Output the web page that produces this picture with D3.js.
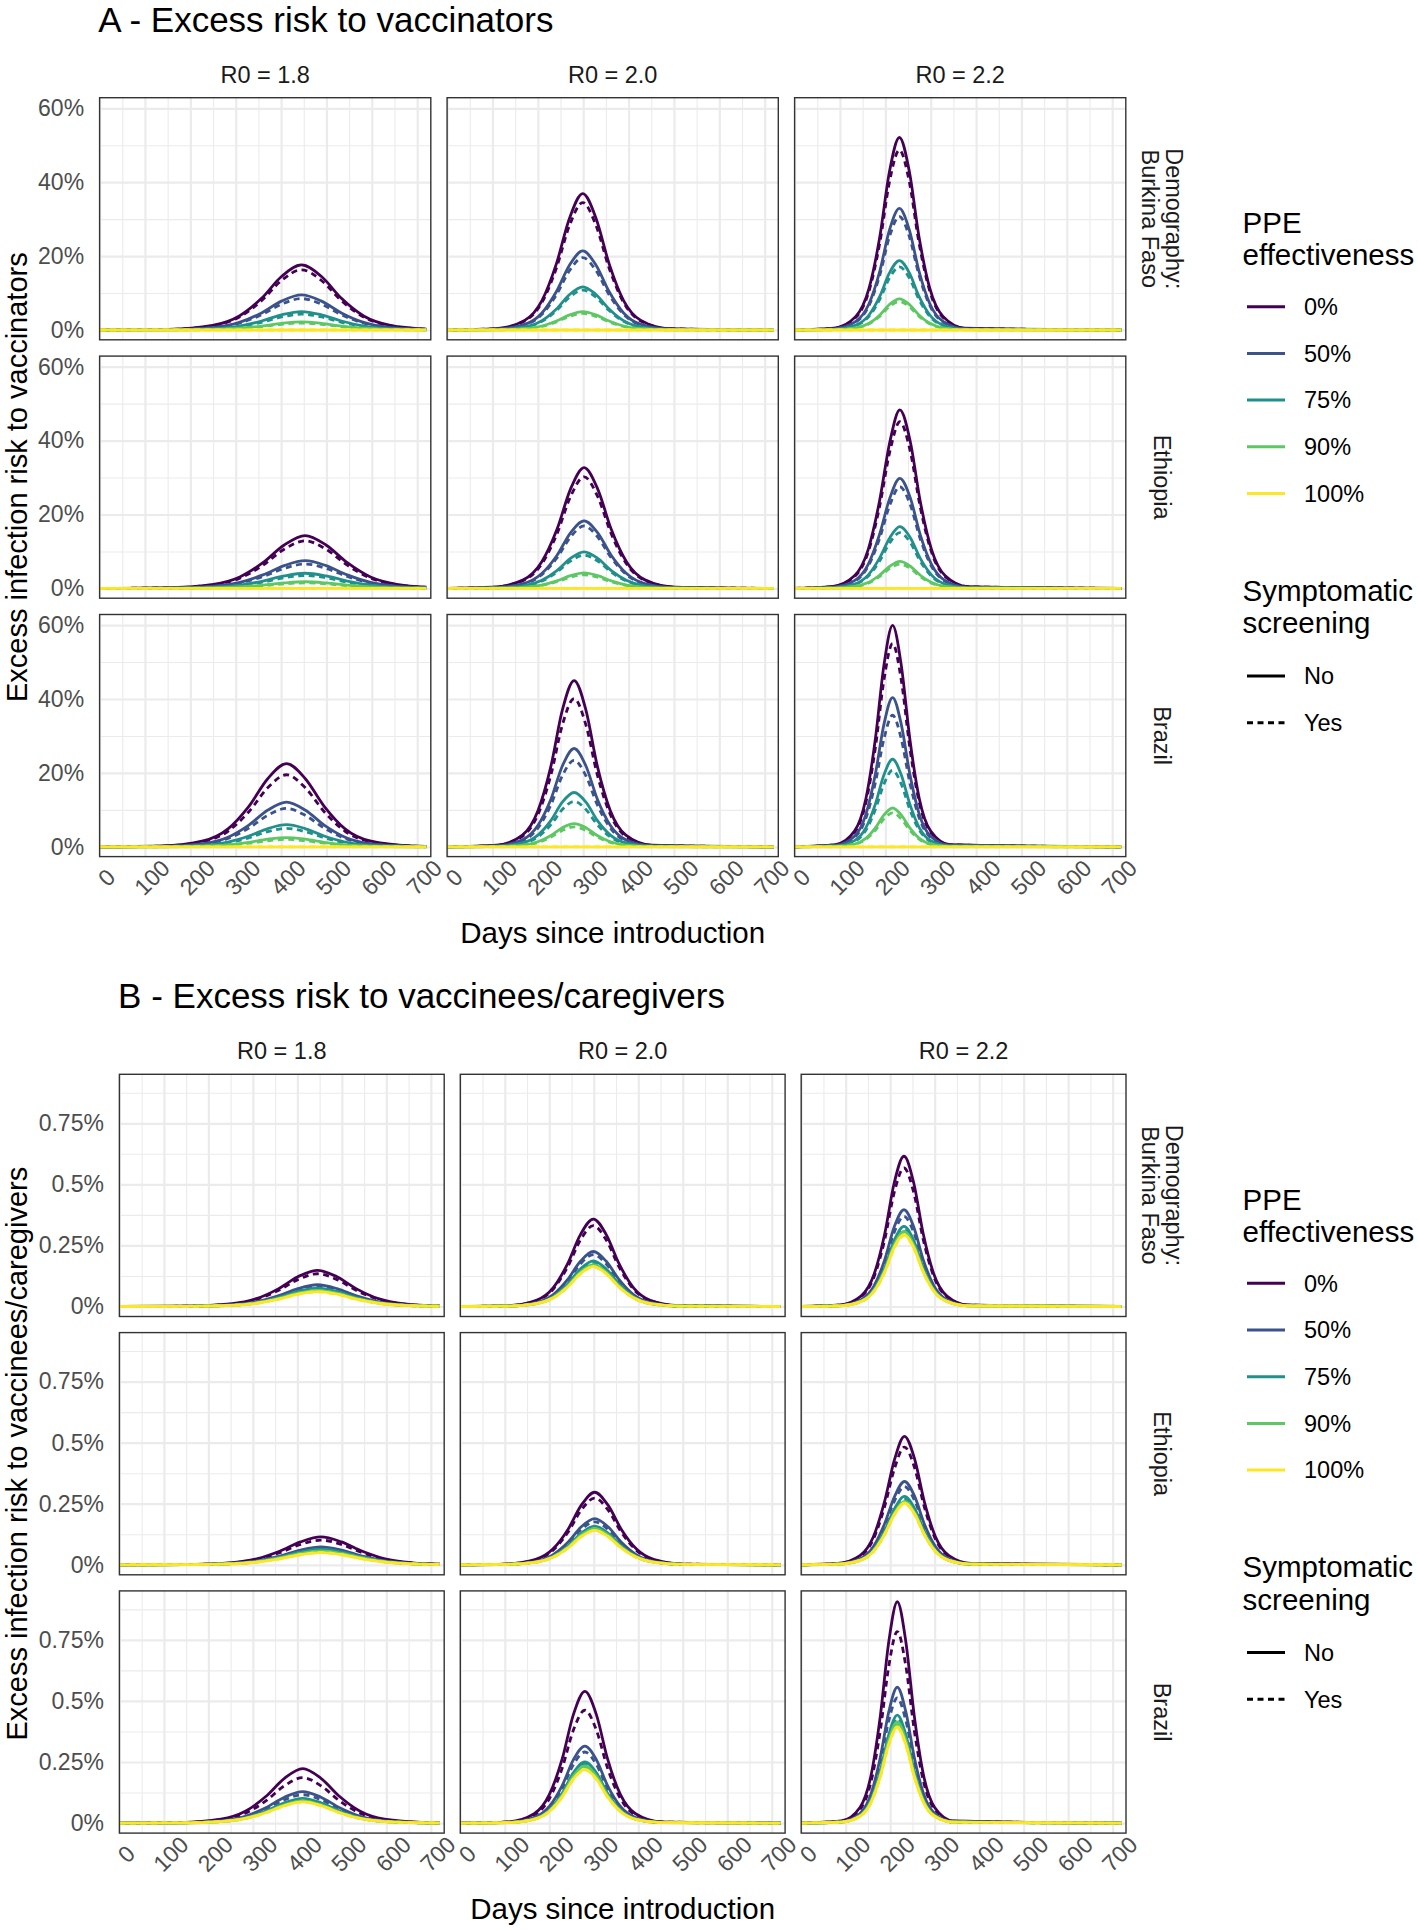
<!DOCTYPE html>
<html><head><meta charset="utf-8">
<script src="https://cdn.jsdelivr.net/npm/d3@7"></script>
<style>
body{margin:0;background:#fff}
svg{display:block}
text{font-family:"Liberation Sans",Arial,Helvetica,sans-serif}
</style>
</head><body>
<svg id="chart" width="1418" height="1930"></svg>
<script>
// ---------------- categories / labels ----------------
const demographyStrips = [["Demography:", "Burkina Faso"], ["Ethiopia"], ["Brazil"]];
const r0Labels = ["R0 = 1.8", "R0 = 2.0", "R0 = 2.2"];
const ppeLevels = ["0%", "50%", "75%", "90%", "100%"];
const screeningLevels = ["No", "Yes"];
const xTickValues = [0, 100, 200, 300, 400, 500, 600, 700];
const xMinorValues = [50, 150, 250, 350, 450, 550, 650];
const yTicksA = [0, 20, 40, 60];
const yTickLabelsA = ["0%", "20%", "40%", "60%"];
const yMinorA = [10, 30, 50];
const yTicksB = [0, 0.25, 0.5, 0.75];
const yTickLabelsB = ["0%", "0.25%", "0.5%", "0.75%"];
const yMinorB = [0.125, 0.375, 0.625, 0.875];

// ---------------- days (x) per epidemic ----------------
const daysBF18 = [0, 151, 249, 308, 357, 401, 445, 489, 533, 582, 641, 720];
const daysBF20 = [0, 107, 171, 209, 241, 270, 299, 328, 357, 389, 427, 491, 720];
const daysBF22 = [0, 87, 135, 164, 188, 209, 231, 253, 274, 298, 327, 375, 720];
const daysET18 = [0, 144, 247, 309, 360, 407, 453, 499, 546, 597, 659, 720];
const daysET20 = [0, 101, 168, 208, 242, 272, 302, 332, 362, 396, 436, 503, 720];
const daysET22 = [0, 82, 132, 162, 187, 210, 232, 255, 277, 302, 332, 382, 720];
const daysBR18 = [0, 136, 228, 283, 329, 371, 412, 453, 495, 541, 596, 688, 720];
const daysBR20 = [0, 109, 166, 200, 229, 254, 280, 306, 331, 360, 394, 451, 720];
const daysBR22 = [0, 90, 132, 157, 178, 197, 216, 235, 254, 275, 300, 342, 720];

// ---------------- A: excess risk to vaccinators (%), order: 0% No, 0% Yes, 50% No, 50% Yes, 75% No, 75% Yes, 90% No, 90% Yes, 100% No, 100% Yes ----------------
const vacBF18 = [
 [0,.17,1.24,3.8,8.57,14.47,17.6,14.47,8.57,3.8,1.24,.25],
 [0,.16,1.15,3.52,7.94,13.4,16.3,13.4,7.94,3.52,1.15,.23],
 [0,.09,.67,2.05,4.63,7.81,9.5,7.81,4.63,2.05,.67,.14],
 [0,.08,.6,1.84,4.14,6.99,8.5,6.99,4.14,1.84,.6,.12],
 [0,.05,.35,1.08,2.44,4.11,5,4.11,2.44,1.08,.35,.07],
 [0,.04,.3,.93,2.09,3.53,4.3,3.53,2.09,.93,.3,.06],
 [0,.02,.16,.48,1.07,1.81,2.2,1.81,1.07,.48,.16,.03],
 [0,.02,.13,.41,.93,1.56,1.9,1.56,.93,.41,.13,.03],
 [0,0,0,0,0,0,0,0,0,0,0,0],
 [0,0,0,0,0,0,0,0,0,0,0,0]];
const vacBF20 = [
 [0,.37,2.61,7.97,17.97,30.33,36.9,30.33,17.97,7.97,2.61,.37,0],
 [0,.34,2.44,7.45,16.8,28.36,34.5,28.36,16.8,7.45,2.44,.34,0],
 [0,.21,1.51,4.62,10.42,17.59,21.4,17.59,10.42,4.62,1.51,.21,0],
 [0,.19,1.39,4.23,9.55,16.11,19.6,16.11,9.55,4.23,1.39,.19,0],
 [0,.12,.83,2.53,5.7,9.62,11.7,9.62,5.7,2.53,.83,.12,0],
 [0,.11,.76,2.33,5.26,8.88,10.8,8.88,5.26,2.33,.76,.11,0],
 [0,.05,.35,1.08,2.44,4.11,5,4.11,2.44,1.08,.35,.05,0],
 [0,.04,.32,.97,2.19,3.7,4.5,3.7,2.19,.97,.32,.04,0],
 [0,0,0,0,0,0,0,0,0,0,0,0,0],
 [0,0,0,0,0,0,0,0,0,0,0,0,0]];
const vacBF22 = [
 [0,.52,3.68,11.25,25.37,42.83,52.1,42.83,25.37,11.25,3.68,.52,0],
 [0,.48,3.44,10.52,23.72,40.03,48.7,40.03,23.72,10.52,3.44,.48,0],
 [0,.33,2.33,7.11,16.02,27.04,32.9,27.04,16.02,7.11,2.33,.33,0],
 [0,.3,2.17,6.63,14.95,25.24,30.7,25.24,14.95,6.63,2.17,.3,0],
 [0,.19,1.33,4.06,9.16,15.45,18.8,15.45,9.16,4.06,1.33,.19,0],
 [0,.17,1.21,3.69,8.33,14.06,17.1,14.06,8.33,3.69,1.21,.17,0],
 [0,.08,.59,1.81,4.09,6.9,8.4,6.9,4.09,1.81,.59,.08,0],
 [0,.08,.54,1.66,3.75,6.33,7.7,6.33,3.75,1.66,.54,.08,0],
 [0,0,0,0,0,0,0,0,0,0,0,0,0],
 [0,0,0,0,0,0,0,0,0,0,0,0,0]];
const vacET18 = [
 [0,.14,1.01,3.09,6.96,11.75,14.3,11.75,6.96,3.09,1.01,.32],
 [0,.13,.91,2.79,6.28,10.6,12.9,10.6,6.28,2.79,.91,.29],
 [0,.07,.53,1.62,3.65,6.17,7.5,6.17,3.65,1.62,.53,.17],
 [0,.07,.47,1.43,3.21,5.43,6.6,5.43,3.21,1.43,.47,.15],
 [0,.04,.29,.89,2,3.37,4.1,3.37,2,.89,.29,.09],
 [0,.03,.25,.76,1.7,2.88,3.5,2.88,1.7,.76,.25,.08],
 [0,.02,.13,.39,.88,1.48,1.8,1.48,.88,.39,.13,.04],
 [0,.01,.11,.32,.73,1.23,1.5,1.23,.73,.32,.11,.03],
 [0,0,0,0,0,0,0,0,0,0,0,0],
 [0,0,0,0,0,0,0,0,0,0,0,0]];
const vacET20 = [
 [0,.32,2.31,7.06,15.92,26.88,32.7,26.88,15.92,7.06,2.31,.32,0],
 [0,.3,2.14,6.52,14.71,24.82,30.2,24.82,14.71,6.52,2.14,.3,0],
 [0,.18,1.29,3.95,8.91,15.04,18.3,15.04,8.91,3.95,1.29,.18,0],
 [0,.17,1.19,3.65,8.23,13.89,16.9,13.89,8.23,3.65,1.19,.17,0],
 [0,.1,.7,2.14,4.82,8.14,9.9,8.14,4.82,2.14,.7,.1,0],
 [0,.09,.64,1.94,4.38,7.4,9,7.4,4.38,1.94,.64,.09,0],
 [0,.04,.3,.91,2.05,3.45,4.2,3.45,2.05,.91,.3,.04,0],
 [0,.04,.26,.8,1.8,3.04,3.7,3.04,1.8,.8,.26,.04,0],
 [0,0,0,0,0,0,0,0,0,0,0,0,0],
 [0,0,0,0,0,0,0,0,0,0,0,0,0]];
const vacET22 = [
 [0,.48,3.41,10.43,23.52,39.7,48.3,39.7,23.52,10.43,3.41,.48,0],
 [0,.45,3.19,9.74,21.96,37.07,45.1,37.07,21.96,9.74,3.19,.45,0],
 [0,.3,2.11,6.44,14.51,24.5,29.8,24.5,14.51,6.44,2.11,.3,0],
 [0,.27,1.94,5.94,13.39,22.61,27.5,22.61,13.39,5.94,1.94,.27,0],
 [0,.17,1.18,3.61,8.13,13.73,16.7,13.73,8.13,3.61,1.18,.17,0],
 [0,.15,1.07,3.26,7.35,12.41,15.1,12.41,7.35,3.26,1.07,.15,0],
 [0,.07,.52,1.58,3.56,6,7.3,6,3.56,1.58,.52,.07,0],
 [0,.07,.47,1.43,3.21,5.43,6.6,5.43,3.21,1.43,.47,.07,0],
 [0,0,0,0,0,0,0,0,0,0,0,0,0],
 [0,0,0,0,0,0,0,0,0,0,0,0,0]];
const vacBR18 = [
 [0,.22,1.59,4.86,10.96,18.5,22.5,18.5,10.96,4.86,1.59,.22,.11],
 [0,.19,1.38,4.21,9.5,16.03,19.5,16.03,9.5,4.21,1.38,.19,.1],
 [0,.12,.86,2.61,5.89,9.95,12.1,9.95,5.89,2.61,.86,.12,.06],
 [0,.1,.74,2.25,5.06,8.55,10.4,8.55,5.06,2.25,.74,.1,.05],
 [0,.06,.42,1.3,2.92,4.93,6,4.93,2.92,1.3,.42,.06,.03],
 [0,.05,.35,1.08,2.44,4.11,5,4.11,2.44,1.08,.35,.05,.02],
 [0,.02,.18,.54,1.22,2.06,2.5,2.06,1.22,.54,.18,.02,.01],
 [0,.02,.14,.43,.97,1.64,2,1.64,.97,.43,.14,.02,.01],
 [0,0,0,0,0,0,0,0,0,0,0,0,0],
 [0,0,0,0,0,0,0,0,0,0,0,0,0]];
const vacBR20 = [
 [0,.45,3.18,9.72,21.92,36.99,45,36.99,21.92,9.72,3.18,.45,0],
 [0,.4,2.84,8.66,19.53,32.96,40.1,32.96,19.53,8.66,2.84,.4,0],
 [0,.26,1.88,5.75,12.95,21.87,26.6,21.87,12.95,5.75,1.88,.26,0],
 [0,.23,1.65,5.05,11.4,19.23,23.4,19.23,11.4,5.05,1.65,.23,0],
 [0,.15,1.04,3.18,7.16,12.08,14.7,12.08,7.16,3.18,1.04,.15,0],
 [0,.12,.87,2.66,5.99,10.11,12.3,10.11,5.99,2.66,.87,.12,0],
 [0,.06,.45,1.36,3.07,5.18,6.3,5.18,3.07,1.36,.45,.06,0],
 [0,.05,.38,1.17,2.63,4.44,5.4,4.44,2.63,1.17,.38,.05,0],
 [0,0,0,0,0,0,0,0,0,0,0,0,0],
 [0,0,0,0,0,0,0,0,0,0,0,0,0]];
const vacBR22 = [
 [0,.59,4.23,12.94,29.17,49.24,59.9,49.24,29.17,12.94,4.23,.59,0],
 [0,.54,3.89,11.88,26.79,45.21,55,45.21,26.79,11.88,3.89,.54,0],
 [0,.4,2.86,8.73,19.67,33.21,40.4,33.21,19.67,8.73,2.86,.4,0],
 [0,.35,2.52,7.69,17.34,29.26,35.6,29.26,17.34,7.69,2.52,.35,0],
 [0,.23,1.68,5.12,11.54,19.48,23.7,19.48,11.54,5.12,1.68,.23,0],
 [0,.2,1.46,4.47,10.08,17.02,20.7,17.02,10.08,4.47,1.46,.2,0],
 [0,.1,.74,2.27,5.11,8.63,10.5,8.63,5.11,2.27,.74,.1,0],
 [0,.09,.65,1.99,4.48,7.56,9.2,7.56,4.48,1.99,.65,.09,0],
 [0,0,0,0,0,0,0,0,0,0,0,0,0],
 [0,0,0,0,0,0,0,0,0,0,0,0,0]];

// ---------------- B: excess risk to vaccinees/caregivers (%) ----------------
const vceBF18 = [
 [0,.0015,.0105,.032,.0721,.1217,.148,.1217,.0721,.032,.0105,.0021],
 [0,.0013,.0095,.0289,.0653,.1101,.134,.1101,.0653,.0289,.0095,.0019],
 [0,.0009,.0063,.0192,.0433,.0732,.089,.0732,.0433,.0192,.0063,.0013],
 [0,.0008,.0059,.0179,.0404,.0682,.083,.0682,.0404,.0179,.0059,.0012],
 [0,.0007,.0053,.0162,.0365,.0617,.075,.0617,.0365,.0162,.0053,.0011],
 [0,.0007,.0051,.0156,.0351,.0592,.072,.0592,.0351,.0156,.0051,.001],
 [0,.0007,.0047,.0143,.0321,.0543,.066,.0543,.0321,.0143,.0047,.001],
 [0,.0006,.0046,.014,.0317,.0534,.065,.0534,.0317,.014,.0046,.0009],
 [0,.0006,.0043,.0132,.0297,.0501,.061,.0501,.0297,.0132,.0043,.0009],
 [0,.0006,.0042,.013,.0292,.0493,.06,.0493,.0292,.013,.0042,.0009]];
const vceBF20 = [
 [0,.0035,.0253,.0773,.1743,.2943,.358,.2943,.1743,.0773,.0253,.0035,0],
 [0,.0033,.0234,.0715,.1612,.2721,.331,.2721,.1612,.0715,.0234,.0033,0],
 [0,.0022,.0159,.0486,.1096,.185,.225,.185,.1096,.0486,.0159,.0022,0],
 [0,.0021,.015,.0458,.1032,.1743,.212,.1743,.1032,.0458,.015,.0021,0],
 [0,.0019,.0132,.0404,.0911,.1537,.187,.1537,.0911,.0404,.0132,.0019,0],
 [0,.0018,.0127,.0389,.0877,.148,.18,.148,.0877,.0389,.0127,.0018,0],
 [0,.0017,.0121,.0369,.0833,.1406,.171,.1406,.0833,.0369,.0121,.0017,0],
 [0,.0017,.0118,.0361,.0813,.1373,.167,.1373,.0813,.0361,.0118,.0017,0],
 [0,.0016,.0116,.0354,.0799,.1348,.164,.1348,.0799,.0354,.0116,.0016,0],
 [0,.0016,.0115,.035,.0789,.1332,.162,.1332,.0789,.035,.0115,.0016,0]];
const vceBF22 = [
 [0,.0061,.0435,.1328,.2995,.5055,.615,.5055,.2995,.1328,.0435,.0061,0],
 [0,.0056,.0401,.1225,.2761,.4661,.567,.4661,.2761,.1225,.0401,.0056,0],
 [0,.0039,.028,.0855,.1929,.3255,.396,.3255,.1929,.0855,.028,.0039,0],
 [0,.0037,.0261,.0797,.1797,.3033,.369,.3033,.1797,.0797,.0261,.0037,0],
 [0,.0032,.0232,.0708,.1597,.2696,.328,.2696,.1597,.0708,.0232,.0032,0],
 [0,.0031,.0222,.0678,.1529,.2581,.314,.2581,.1529,.0678,.0222,.0031,0],
 [0,.003,.0217,.0663,.1495,.2524,.307,.2524,.1495,.0663,.0217,.003,0],
 [0,.003,.0211,.0644,.1451,.245,.298,.245,.1451,.0644,.0211,.003,0],
 [0,.0029,.0208,.0635,.1432,.2417,.294,.2417,.1432,.0635,.0208,.0029,0],
 [0,.0029,.0205,.0626,.1412,.2384,.29,.2384,.1412,.0626,.0205,.0029,0]];
const vceET18 = [
 [0,.0011,.0081,.0246,.0555,.0937,.114,.0937,.0555,.0246,.0081,.0025],
 [0,.001,.0071,.0218,.0492,.083,.101,.083,.0492,.0218,.0071,.0023],
 [0,.0007,.0052,.0158,.0356,.06,.073,.06,.0356,.0158,.0052,.0016],
 [0,.0007,.0047,.0143,.0321,.0543,.066,.0543,.0321,.0143,.0047,.0015],
 [0,.0006,.0045,.0138,.0312,.0526,.064,.0526,.0312,.0138,.0045,.0014],
 [0,.0006,.0042,.013,.0292,.0493,.06,.0493,.0292,.013,.0042,.0013],
 [0,.0006,.004,.0123,.0278,.0469,.057,.0469,.0278,.0123,.004,.0013],
 [0,.0005,.0039,.0119,.0268,.0452,.055,.0452,.0268,.0119,.0039,.0012],
 [0,.0005,.0035,.0108,.0244,.0411,.05,.0411,.0244,.0108,.0035,.0011],
 [0,.0005,.0035,.0108,.0244,.0411,.05,.0411,.0244,.0108,.0035,.0011]];
const vceET20 = [
 [0,.0029,.021,.0642,.1446,.2441,.297,.2441,.1446,.0642,.021,.0029,0],
 [0,.0027,.0193,.059,.133,.2244,.273,.2244,.133,.059,.0193,.0027,0],
 [0,.0019,.0134,.0408,.092,.1554,.189,.1554,.092,.0408,.0134,.0019,0],
 [0,.0017,.0124,.038,.0857,.1447,.176,.1447,.0857,.038,.0124,.0017,0],
 [0,.0016,.0112,.0341,.0769,.1299,.158,.1299,.0769,.0341,.0112,.0016,0],
 [0,.0015,.0107,.0328,.074,.1249,.152,.1249,.074,.0328,.0107,.0015,0],
 [0,.0015,.0105,.0322,.0726,.1225,.149,.1225,.0726,.0322,.0105,.0015,0],
 [0,.0014,.0103,.0313,.0706,.1192,.145,.1192,.0706,.0313,.0103,.0014,0],
 [0,.0014,.01,.0305,.0687,.1159,.141,.1159,.0687,.0305,.01,.0014,0],
 [0,.0014,.0099,.0302,.0682,.1151,.14,.1151,.0682,.0302,.0099,.0014,0]];
const vceET22 = [
 [0,.0052,.0372,.1136,.2562,.4324,.526,.4324,.2562,.1136,.0372,.0052,0],
 [0,.0048,.0341,.1041,.2347,.3962,.482,.3962,.2347,.1041,.0341,.0048,0],
 [0,.0034,.0241,.0737,.1661,.2803,.341,.2803,.1661,.0737,.0241,.0034,0],
 [0,.0032,.0226,.0691,.1558,.263,.32,.263,.1558,.0691,.0226,.0032,0],
 [0,.0028,.0198,.0605,.1364,.2302,.28,.2302,.1364,.0605,.0198,.0028,0],
 [0,.0027,.019,.0581,.131,.2211,.269,.2211,.131,.0581,.019,.0027,0],
 [0,.0026,.0183,.0559,.1261,.2129,.259,.2129,.1261,.0559,.0183,.0026,0],
 [0,.0025,.018,.0551,.1242,.2096,.255,.2096,.1242,.0551,.018,.0025,0],
 [0,.0025,.0179,.0546,.1232,.208,.253,.208,.1232,.0546,.0179,.0025,0],
 [0,.0025,.0177,.0542,.1222,.2063,.251,.2063,.1222,.0542,.0177,.0025,0]];
const vceBR18 = [
 [0,.0022,.0158,.0482,.1086,.1833,.223,.1833,.1086,.0482,.0158,.0022,.0011],
 [0,.0018,.0132,.0402,.0906,.1529,.186,.1529,.0906,.0402,.0132,.0018,.0009],
 [0,.0013,.0091,.0279,.0628,.106,.129,.106,.0628,.0279,.0091,.0013,.0006],
 [0,.0011,.0082,.0251,.0565,.0954,.116,.0954,.0565,.0251,.0082,.0011,.0006],
 [0,.001,.0071,.0218,.0492,.083,.101,.083,.0492,.0218,.0071,.001,.0005],
 [0,.0009,.0067,.0205,.0463,.0781,.095,.0781,.0463,.0205,.0067,.0009,.0005],
 [0,.0009,.0064,.0197,.0443,.0748,.091,.0748,.0443,.0197,.0064,.0009,.0004],
 [0,.0009,.0063,.0192,.0433,.0732,.089,.0732,.0433,.0192,.0063,.0009,.0004],
 [0,.0009,.0062,.0188,.0424,.0715,.087,.0715,.0424,.0188,.0062,.0009,.0004],
 [0,.0009,.0061,.0186,.0419,.0707,.086,.0707,.0419,.0186,.0061,.0009,.0004]];
const vceBR20 = [
 [0,.0053,.0381,.1164,.2625,.4431,.539,.4431,.2625,.1164,.0381,.0053,0],
 [0,.0046,.0327,.0998,.225,.3798,.462,.3798,.225,.0998,.0327,.0046,0],
 [0,.0031,.0223,.068,.1534,.2589,.315,.2589,.1534,.068,.0223,.0031,0],
 [0,.0029,.0206,.0629,.1417,.2392,.291,.2392,.1417,.0629,.0206,.0029,0],
 [0,.0025,.0177,.054,.1218,.2055,.25,.2055,.1218,.054,.0177,.0025,0],
 [0,.0024,.017,.0518,.1169,.1973,.24,.1973,.1169,.0518,.017,.0024,0],
 [0,.0023,.0165,.0505,.114,.1923,.234,.1923,.114,.0505,.0165,.0023,0],
 [0,.0023,.0161,.0492,.111,.1874,.228,.1874,.111,.0492,.0161,.0023,0],
 [0,.0022,.0156,.0475,.1071,.1808,.22,.1808,.1071,.0475,.0156,.0022,0],
 [0,.0022,.0154,.0471,.1062,.1792,.218,.1792,.1062,.0471,.0154,.0022,0]];
const vceBR22 = [
 [0,.009,.0641,.1957,.4412,.7447,.906,.7447,.4412,.1957,.0641,.009,0],
 [0,.0078,.0554,.1693,.3818,.6444,.784,.6444,.3818,.1693,.0554,.0078,0],
 [0,.0055,.0393,.1201,.2708,.457,.556,.457,.2708,.1201,.0393,.0055,0],
 [0,.0051,.0362,.1106,.2493,.4209,.512,.4209,.2493,.1106,.0362,.0051,0],
 [0,.0044,.0312,.0955,.2153,.3633,.442,.3633,.2153,.0955,.0312,.0044,0],
 [0,.0042,.0302,.0922,.2079,.351,.427,.351,.2079,.0922,.0302,.0042,0],
 [0,.0041,.0293,.0894,.2016,.3403,.414,.3403,.2016,.0894,.0293,.0041,0],
 [0,.004,.0286,.0873,.1967,.3321,.404,.3321,.1967,.0873,.0286,.004,0],
 [0,.0039,.0279,.0851,.1919,.3239,.394,.3239,.1919,.0851,.0279,.0039,0],
 [0,.0039,.0276,.0842,.1899,.3206,.39,.3206,.1899,.0842,.0276,.0039,0]];

// ---------------- assembly ----------------
const daysGrid = [[daysBF18, daysBF20, daysBF22], [daysET18, daysET20, daysET22], [daysBR18, daysBR20, daysBR22]];
const seriesKeys = ppeLevels.flatMap(p => screeningLevels.map(s => ({ppe: p, scr: s})));
const ppeColors = ["#440154", "#3B528B", "#21908C", "#5DC863", "#FDE725"];
const colorScale = d3.scaleOrdinal().domain(ppeLevels).range(ppeColors);
const dashScale = d3.scaleOrdinal().domain(screeningLevels).range(["none", "6,4.5"]);

const blocks = [
  {title: "A - Excess risk to vaccinators", yTitle: "Excess infection risk to vaccinators",
   left: 99.6, top: 97.7, pw: 331.2, ph: 242.1, gap: 16.3, yDomain: [-2.65, 62.87],
   yTicks: yTicksA, yLabels: yTickLabelsA, yMinor: yMinorA,
   data: [[vacBF18, vacBF20, vacBF22], [vacET18, vacET20, vacET22], [vacBR18, vacBR20, vacBR22]]},
  {title: "B - Excess risk to vaccinees/caregivers", yTitle: "Excess infection risk to vaccinees/caregivers",
   left: 119.4, top: 1074.3, pw: 324.8, ph: 242.2, gap: 16.1, yDomain: [-0.041, 0.9505],
   yTicks: yTicksB, yLabels: yTickLabelsB, yMinor: yMinorB,
   data: [[vceBF18, vceBF20, vceBF22], [vceET18, vceET20, vceET22], [vceBR18, vceBR20, vceBR22]]}
];

const svg = d3.select("#chart");
svg.append("rect").attr("width", 1418).attr("height", 1930).attr("fill", "#fff");

const GRID = "#ebebeb";
const FONT = "'Liberation Sans',Arial,Helvetica,sans-serif";
let clipId = 0;

blocks.forEach((b, bi) => {
  const g = svg.append("g");
  const x = d3.scaleLinear().domain([0, 730]).range([0, b.pw]);
  const y = d3.scaleLinear().domain(b.yDomain).range([b.ph, 0]);
  const right = b.left + 3 * b.pw + 2 * b.gap;
  const bottom = b.top + 3 * b.ph + 2 * b.gap;

  // block title
  g.append("text").attr("x", b.left - 1.3).attr("y", b.top - 66)
    .attr("font-size", 35).attr("fill", "#000").text(b.title);

  for (let r = 0; r < 3; r++) {
    for (let c = 0; c < 3; c++) {
      const px = b.left + c * (b.pw + b.gap);
      const py = b.top + r * (b.ph + b.gap);
      const pg = g.append("g").attr("transform", `translate(${px},${py})`);

      // grid (minor)
      pg.append("g").call(d3.axisBottom(x).tickValues(xMinorValues).tickSize(b.ph).tickFormat(""))
        .call(a => a.select(".domain").remove())
        .call(a => a.selectAll("line").attr("stroke", GRID).attr("stroke-width", 1.1));
      pg.append("g").call(d3.axisRight(y).tickValues(b.yMinor).tickSize(b.pw).tickFormat(""))
        .call(a => a.select(".domain").remove())
        .call(a => a.selectAll("line").attr("stroke", GRID).attr("stroke-width", 1.1));
      // grid (major)
      pg.append("g").call(d3.axisBottom(x).tickValues(xTickValues).tickSize(b.ph).tickFormat(""))
        .call(a => a.select(".domain").remove())
        .call(a => a.selectAll("line").attr("stroke", GRID).attr("stroke-width", 2.2));
      pg.append("g").call(d3.axisRight(y).tickValues(b.yTicks).tickSize(b.pw).tickFormat(""))
        .call(a => a.select(".domain").remove())
        .call(a => a.selectAll("line").attr("stroke", GRID).attr("stroke-width", 2.2));

      // curves
      const cid = "clip" + (clipId++);
      pg.append("clipPath").attr("id", cid).append("rect").attr("width", b.pw).attr("height", b.ph);
      const days = daysGrid[r][c];
      const vals = b.data[r][c];
      const line = d3.line().x(d => x(d[0])).y(d => y(d[1])).curve(d3.curveMonotoneX);
      const cg = pg.append("g").attr("clip-path", `url(#${cid})`);
      seriesKeys.forEach((k, i) => {
        const pts = days.map((d, j) => [d, vals[i][j]]);
        cg.append("path").attr("d", line(pts)).attr("fill", "none")
          .attr("stroke", colorScale(k.ppe)).attr("stroke-width", 2.8)
          .attr("stroke-dasharray", dashScale(k.scr))
          .attr("stroke-linejoin", "round");
      });

      // panel border
      pg.append("rect").attr("width", b.pw).attr("height", b.ph)
        .attr("fill", "none").attr("stroke", "#333333").attr("stroke-width", 1.4);

      // top strip
      if (r === 0) {
        g.append("text").attr("x", px + b.pw / 2).attr("y", py - 15)
          .attr("text-anchor", "middle").attr("font-size", 23.5).attr("fill", "#1a1a1a")
          .text(r0Labels[c]);
      }
      // right strip
      if (c === 2) {
        const lines = demographyStrips[r];
        const cx = right + 36.2;
        const base = lines.length === 2 ? cx + 4 : cx - 8.4;
        const t = g.append("text")
          .attr("transform", `translate(${base},${py + b.ph / 2}) rotate(90)`)
          .attr("text-anchor", "middle").attr("font-size", 23.5).attr("fill", "#1a1a1a");
        lines.forEach((ln, li) => t.append("tspan").attr("x", 0).attr("y", li * 24.5).text(ln));
      }
      // y axis labels
      if (c === 0) {
        pg.append("g").call(d3.axisLeft(y).tickValues(b.yTicks).tickFormat((d, i) => b.yLabels[i]).tickSize(0).tickPadding(15.5))
          .call(a => a.select(".domain").remove())
          .call(a => a.selectAll("text").attr("font-size", 23).attr("fill", "#4d4d4d").attr("font-family", FONT));
      }
      // x axis labels
      if (r === 2) {
        pg.append("g").attr("transform", `translate(0,${b.ph})`)
          .call(d3.axisBottom(x).tickValues(xTickValues).tickFormat(d3.format("d")).tickSize(0))
          .call(a => a.select(".domain").remove())
          .call(a => a.selectAll("text").attr("font-size", 23).attr("fill", "#4d4d4d")
            .attr("font-family", FONT)
            .attr("x", 0).attr("y", 0).attr("dy", "0.35em")
            .attr("text-anchor", "middle")
            .attr("transform", "translate(6.5,21) rotate(-45)"));
      }
    }
  }

  // axis titles
  g.append("text").attr("transform", `translate(26.5,${(b.top + bottom) / 2}) rotate(-90)`)
    .attr("text-anchor", "middle").attr("font-size", 29).attr("fill", "#000").text(b.yTitle);
  g.append("text").attr("x", (b.left + right) / 2).attr("y", b.top + 845)
    .attr("text-anchor", "middle").attr("font-size", 29.5).attr("fill", "#000").text("Days since introduction");

  // legends
  const lx = 1242.6;
  const lg = g.append("g");
  lg.append("text").attr("x", lx).attr("y", b.top + 135.6).attr("font-size", 29.5).text("PPE");
  lg.append("text").attr("x", lx).attr("y", b.top + 167.3).attr("font-size", 29.5).text("effectiveness");
  ppeLevels.forEach((p, i) => {
    const ky = b.top + 209 + i * 46.7;
    lg.append("line").attr("x1", 1247).attr("x2", 1285).attr("y1", ky).attr("y2", ky)
      .attr("stroke", colorScale(p)).attr("stroke-width", 3);
    lg.append("text").attr("x", 1304).attr("y", ky).attr("dy", "0.35em").attr("font-size", 23.5).text(p);
  });
  lg.append("text").attr("x", lx).attr("y", b.top + 503).attr("font-size", 29.5).text("Symptomatic");
  lg.append("text").attr("x", lx).attr("y", b.top + 535.6).attr("font-size", 29.5).text("screening");
  screeningLevels.forEach((s, i) => {
    const ky = b.top + 578.3 + i * 46.7;
    lg.append("line").attr("x1", 1247).attr("x2", 1285).attr("y1", ky).attr("y2", ky)
      .attr("stroke", "#000").attr("stroke-width", 3).attr("stroke-dasharray", dashScale(s));
    lg.append("text").attr("x", 1304).attr("y", ky).attr("dy", "0.35em").attr("font-size", 23.5).text(s);
  });
});
</script>
</body></html>
